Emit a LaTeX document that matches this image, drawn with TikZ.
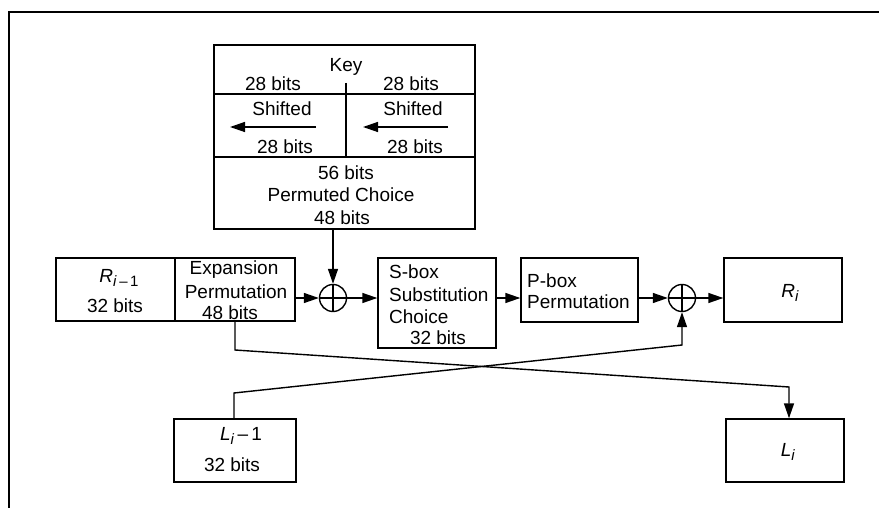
\documentclass[tikz,border=0pt]{standalone}
\usepackage{fontspec}
\setmainfont{Liberation Sans}
\usetikzlibrary{arrows.meta}
\newcommand{\mysub}[1]{\raisebox{-0.45ex}{\fontsize{15}{15}\selectfont #1}}
\begin{document}
\begin{tikzpicture}[x=1pt,y=-1pt,
  every node/.style={font=\fontsize{19}{21}\selectfont},
  box/.style={draw, line width=1.4pt, rectangle, inner sep=0pt},
  txt/.style={inner sep=0pt, anchor=center},
  ltxt/.style={inner sep=0pt, anchor=west},
  xorsym/.style={circle, draw, line width=1.4pt, minimum size=27pt, inner sep=0pt,
    path picture={\draw[line width=1.4pt] (path picture bounding box.north) -- (path picture bounding box.south)
      (path picture bounding box.west) -- (path picture bounding box.east);}},
  conn/.style={line width=1.4pt},
  arr/.style={line width=1.4pt, -{Triangle[length=15pt,width=10pt]}}]
\useasboundingbox (0,0) rectangle (879,508);
% frame
\draw[line width=2.2pt] (879,12) -- (9,12) -- (9,508);
% boxes
\node[box, minimum width=261pt, minimum height=184pt] (keybox) at (344.5,137) {};
\node[box, minimum width=239pt, minimum height=63pt] (rbox) at (175.5,289.5) {};
\node[box, minimum width=118pt, minimum height=90pt] (sbox) at (437,303) {};
\node[box, minimum width=117pt, minimum height=64pt] (pbox) at (579.5,290) {};
\node[box, minimum width=118pt, minimum height=64pt] (ribox) at (783,290) {};
\node[box, minimum width=122pt, minimum height=63pt] (lbox) at (235,450.5) {};
\node[box, minimum width=118pt, minimum height=63pt] (libox) at (785,450.5) {};
\node[xorsym] (xor1) at (333,298) {};
\node[xorsym] (xor2) at (682,298) {};
% key box inner lines
\coordinate (kh1) at (214,94);
\coordinate (kh2) at (214,157);
\draw[conn] (kh1) -- (kh1 -| keybox.east);
\draw[conn] (kh2) -- (kh2 -| keybox.east);
\coordinate (kv1) at (346,83);
\coordinate (kv2) at (346,157);
\draw[conn] (kv1) -- (kv2);
% rbox divider
\coordinate (rd1) at (175,258);
\coordinate (rd2) at (175,321);
\draw[conn] (rd1) -- (rd2);
% key texts
\node[txt] (tkey) at (346,67) {Key};
\node[txt] (t28a) at (273,84) {28 bits};
\node[txt] (t28b) at (411,84) {28 bits};
\node[txt] (tsha) at (282,109) {Shifted};
\node[txt] (tshb) at (413,109) {Shifted};
\node[txt] (t28c) at (285,147) {28 bits};
\node[txt] (t28d) at (415,147) {28 bits};
\node[txt] (t56) at (346,173) {56 bits};
\node[txt] (tpc) at (341,195) {Permuted Choice};
\node[txt] (t48) at (342,218) {48 bits};
\coordinate (sa1) at (316,127);
\coordinate (sa2) at (230,127);
\coordinate (sb1) at (448,127);
\coordinate (sb2) at (363,127);
\draw[arr] (sa1) -- (sa2);
\draw[arr] (sb1) -- (sb2);
% R box texts
\node[txt] (tri) at (119,278) {\textit{R}\mysub{\textit{i}\,–\,1}};
\node[txt] (tr32) at (115,306) {32 bits};
\node[txt] (texp) at (234,270) {Expansion};
\node[txt] (tperm) at (236,292) {Permutation};
\node[txt] (tr48) at (230,313) {48 bits};
% S box texts
\node[ltxt] (ts1) at (389,272) {S-box};
\node[ltxt] (ts2) at (389,295) {Substitution};
\node[ltxt] (ts3) at (389,317) {Choice};
\node[txt] (ts4) at (438,338) {32 bits};
% P box texts
\node[ltxt] (tp1) at (527,281) {P-box};
\node[ltxt] (tp2) at (527,302) {Permutation};
% R_i, L texts
\node[txt] (tri2) at (790,293) {\textit{R}\mysub{\textit{i}}};
\node[txt] (tl1) at (241,436) {\textit{L}\mysub{\textit{i}}\,–\,1};
\node[txt] (tl32) at (232,465) {32 bits};
\node[txt] (tli) at (788,452) {\textit{L}\mysub{\textit{i}}};
% connectors
\draw[arr] (keybox.south -| xor1) -- (xor1.north);
\draw[arr] (rbox.east |- xor1) -- (xor1.west);
\draw[arr] (xor1.east) -- (xor1.east -| sbox.west);
\draw[arr] (sbox.east |- xor2) -- (pbox.west |- xor2);
\draw[arr] (pbox.east |- xor2) -- (xor2.west);
\draw[arr] (xor2.east) -- (xor2.east -| ribox.west);
\coordinate (c1) at (235,350);
\coordinate (c2) at (789,387);
\draw[arr] (rbox.south -| c1) -- (c1) -- (c2) -- (c2 |- libox.north);
\coordinate (d1) at (234,393);
\coordinate (d2) at (682,345);
\draw[arr] (lbox.north -| d1) -- (d1) -- (d2) -- (xor2.south);
\end{tikzpicture}
\end{document}
